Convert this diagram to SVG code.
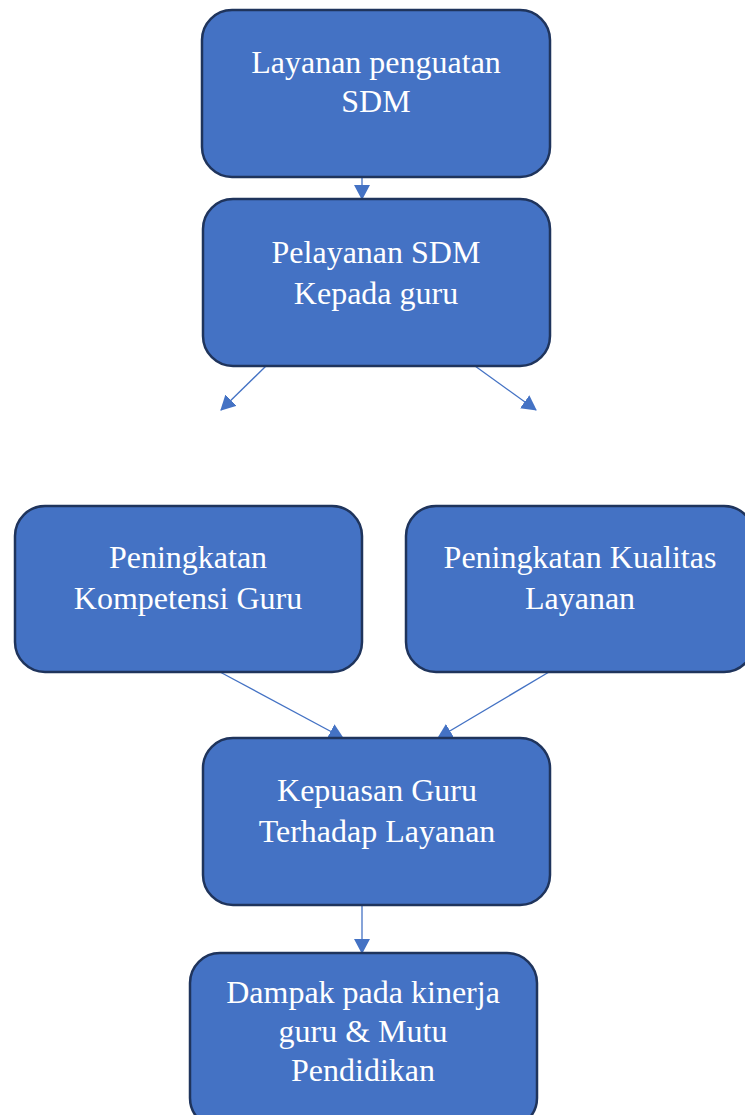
<svg xmlns="http://www.w3.org/2000/svg" width="745" height="1115" viewBox="0 0 745 1115">
<style>
.box{fill:#4472C4;stroke:#1F345C;stroke-width:2.5}
.t{font-family:"Liberation Serif","Times New Roman",serif;font-size:32px;fill:#FFFFFF;text-anchor:middle}
.c{stroke:#4472C4;stroke-width:1.3;fill:none;marker-end:url(#ah)}
</style>
<defs>
<marker id="ah" markerWidth="15" markerHeight="16" refX="14" refY="8" orient="auto" markerUnits="userSpaceOnUse" viewBox="0 0 15 16">
<path d="M0,0 L15,8 L0,16 Z" fill="#4472C4"/>
</marker>
</defs>
<rect width="745" height="1115" fill="#FFFFFF"/>
<g id="connectors">
<line class="c" x1="362" y1="177" x2="362" y2="199"/>
<line class="c" x1="266" y1="366" x2="221" y2="410"/>
<line class="c" x1="475" y1="366" x2="536" y2="410"/>
<line class="c" x1="220" y1="672" x2="343" y2="738"/>
<line class="c" x1="549" y1="672" x2="438" y2="738"/>
<line class="c" x1="362" y1="905" x2="362" y2="953"/>
</g>
<g id="n1">
<rect class="box" x="202" y="10" width="348" height="167" rx="30"/>
<text class="t" x="376" y="73">Layanan penguatan</text>
<text class="t" x="376" y="112">SDM</text>
</g>
<g id="n2">
<rect class="box" x="203" y="199" width="347" height="167" rx="30"/>
<text class="t" x="376" y="263">Pelayanan SDM</text>
<text class="t" x="376" y="304">Kepada guru</text>
</g>
<g id="n3">
<rect class="box" x="15" y="506" width="347" height="166" rx="30"/>
<text class="t" x="188" y="568">Peningkatan</text>
<text class="t" x="188" y="609">Kompetensi Guru</text>
</g>
<g id="n4">
<rect class="box" x="406" y="506" width="348" height="166" rx="30"/>
<text class="t" x="580" y="568">Peningkatan Kualitas</text>
<text class="t" x="580" y="609">Layanan</text>
</g>
<g id="n5">
<rect class="box" x="203" y="738" width="347" height="167" rx="30"/>
<text class="t" x="377" y="801">Kepuasan Guru</text>
<text class="t" x="377" y="842">Terhadap Layanan</text>
</g>
<g id="n6">
<rect class="box" x="190" y="953" width="347" height="175" rx="30"/>
<text class="t" x="363" y="1003">Dampak pada kinerja</text>
<text class="t" x="363" y="1042">guru &amp; Mutu</text>
<text class="t" x="363" y="1081">Pendidikan</text>
</g>
</svg>
